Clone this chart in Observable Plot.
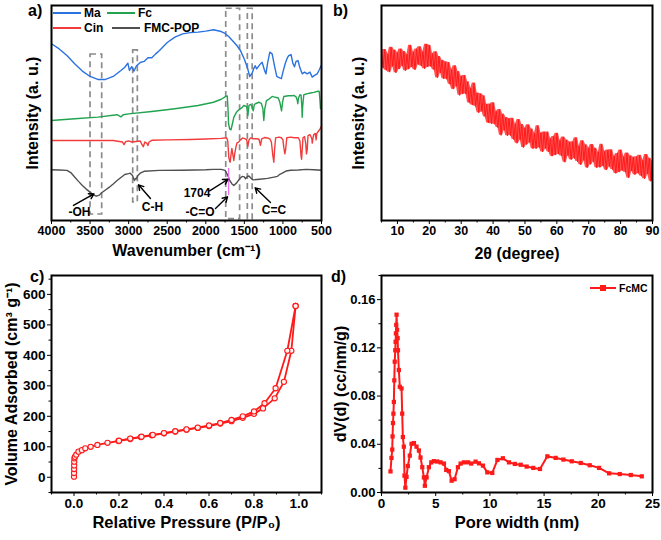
<!DOCTYPE html>
<html><head><meta charset="utf-8">
<script src="https://cdn.jsdelivr.net/npm/d3@7"></script>
<script src="https://cdn.jsdelivr.net/npm/@observablehq/plot@0.6"></script>
<style>
body{margin:0;background:#fff;}
#fig{position:relative;width:661px;height:540px;overflow:hidden;font-family:"Liberation Sans",Arial,sans-serif;font-weight:bold;color:#000;}
.panel{position:absolute;}
.lab{position:absolute;font-size:16px;font-weight:bold;line-height:18px;}
.legt{position:absolute;font-weight:bold;line-height:14px;white-space:nowrap;}
.legl{position:absolute;height:2px;}
</style></head><body><div id="fig"></div>
<script>
// ---------- Panel a: FTIR (wavenumber, intensity a.u.) ----------
const maSpectrum = [[4000,82.2],[3900,79.8],[3800,76.7],[3700,72.9],[3600,69.5],[3500,67.0],[3400,65.6],[3300,65.6],[3200,67.0],[3100,69.8],[3050,71.3],[3010,73.2],[2990,69.8],[2960,71.6],[2930,69.5],[2900,71.9],[2850,73.5],[2800,74.0],[2750,75.7],[2700,75.7],[2650,77.5],[2600,79.1],[2500,82.8],[2400,85.3],[2300,86.8],[2200,87.4],[2100,87.6],[2000,88.1],[1900,88.7],[1800,87.9],[1750,87.0],[1700,85.5],[1650,83.5],[1600,81.5],[1550,79.0],[1500,75.0],[1460,71.0],[1430,67.0],[1400,68.5],[1380,70.5],[1360,72.0],[1340,70.5],[1300,72.5],[1270,73.6],[1240,70.0],[1220,68.2],[1200,73.0],[1170,78.3],[1140,77.5],[1110,72.0],[1080,67.0],[1050,66.5],[1020,66.0],[1000,69.0],[970,73.0],[945,75.5],[925,76.7],[895,77.2],[870,73.0],[850,71.5],[830,74.0],[805,74.4],[780,71.0],[750,68.2],[720,69.0],[685,68.2],[650,69.0],[620,66.7],[590,67.5],[556,68.2],[530,70.0],[504,72.1]];
const fcSpectrum = [[4000,46.5],[3700,47.3],[3400,48.1],[3150,49.2],[3100,48.2],[3070,49.2],[3000,49.6],[2700,50.7],[2400,52.0],[2100,53.5],[1900,55.0],[1800,56.4],[1740,57.7],[1722,57.9],[1712,52],[1705,45],[1690,42.5],[1673,42.2],[1655,45],[1637,48],[1600,50.5],[1572,51.5],[1530,52.5],[1507,53.5],[1470,53],[1455,48.8],[1440,53.5],[1420,54],[1400,53],[1385,51],[1370,54],[1356,54.3],[1313,55],[1280,54.5],[1260,52],[1248,46.5],[1235,52],[1213,55.8],[1180,56.5],[1139,57.7],[1100,57.3],[1060,57],[1040,55],[1018,51],[1005,55],[989,57.7],[930,58],[880,58],[859,58.2],[830,57.5],[815,56],[807,54.3],[798,57],[780,58.5],[765,58.3],[755,53],[750,48],[744,53],[730,58.4],[720,58.6],[680,59],[643,59.3],[600,59.6],[560,60],[543,60.2],[530,60],[520,56],[513,52],[505,53]];
const cinSpectrum = [[4000,37.2],[3500,37.2],[3200,37.2],[3080,36.5],[3060,35.3],[3040,36.7],[3000,37],[2960,36.5],[2850,37],[2830,35.5],[2810,34.3],[2790,36.5],[2765,36],[2750,34.9],[2735,36.5],[2700,37.3],[2500,37.5],[2200,37.7],[2000,37.9],[1800,38.2],[1730,38.5],[1715,37],[1702,29.5],[1690,27.5],[1684,27.1],[1675,30],[1662,33.5],[1650,31],[1637,27.9],[1625,31],[1610,34],[1597,36],[1575,36.5],[1550,37.5],[1522,38.4],[1490,38],[1470,37.5],[1455,34.5],[1440,37.5],[1420,38.4],[1380,38],[1340,38],[1310,37.8],[1291,35],[1275,38],[1240,38.6],[1200,38.4],[1170,38],[1150,36.5],[1130,30],[1118,27.1],[1108,33],[1095,38.4],[1050,38.8],[1020,38.5],[1000,37.5],[989,34.1],[975,31],[965,33],[950,38.5],[900,38.8],[850,38.5],[800,38.5],[780,37],[765,30],[758,28.5],[750,33],[740,38.5],[720,39],[705,36],[695,31],[685,33],[675,39.5],[650,40],[625,38],[620,36],[612,38],[600,40],[580,40.5],[570,37.5],[560,40.5],[540,41.5],[520,42.5],[504,43.7]];
const popSpectrum = [[4000,23.6],[3900,23.5],[3800,23.3],[3750,22.3],[3700,20.2],[3650,18.2],[3600,16.3],[3550,14.6],[3500,13.2],[3460,12.0],[3420,11.3],[3380,11.8],[3350,12.9],[3300,14.2],[3250,15.5],[3200,17.0],[3150,18.6],[3100,20.0],[3050,21.4],[3000,21.8],[2980,22.0],[2950,20.9],[2925,18.6],[2910,19.6],[2900,19.4],[2880,20.9],[2850,22.0],[2800,22.9],[2600,23.3],[2300,23.4],[2000,23.6],[1900,23.8],[1800,23.8],[1750,23.3],[1722,21.5],[1704,20.0],[1690,18.6],[1660,17.0],[1637,16.3],[1600,17.5],[1560,19.5],[1528,20.5],[1500,20.3],[1485,19.4],[1460,20.5],[1442,20.7],[1410,19.5],[1387,18.9],[1300,19.2],[1200,19.6],[1100,20.3],[1074,20.5],[1040,21.5],[1008,22.0],[960,23.0],[900,23.4],[800,23.5],[700,23.8],[600,23.6],[504,23.4]];
const ftirNames = ["Ma","Fc","Cin","FMC-POP"];
const ftirColors = ["#2a72e0","#22a34f","#f23c3c","#505050"];
const waveTicks = [4000,3500,3000,2500,2000,1500,1000,500];
const waveMinor = [3750,3250,2750,2250,1750,1250,750];
// annotation boxes, marker line, arrows and labels (data coordinates)
const annoBoxes = [{x1:3494,x2:3343,y1:2.8,y2:77.2},{x1:2941,x2:2881,y1:8.4,y2:79.1},{x1:1735,x2:1555,y1:0.6,y2:98.5},{x1:1455,x2:1392,y1:0.6,y2:98.5}];
const annoMark = [{x:1704,y1:11.6,y2:24.2}];
const annoArrows = [{x1:3715,y1:7.0,x2:3450,y2:12.4},{x1:2717,y1:10.2,x2:2872,y2:16.6},{x1:1950,y1:13.8,x2:1712,y2:19.2},{x1:1874,y1:5.6,x2:1718,y2:11.0},{x1:1161,y1:8.4,x2:1360,y2:15.2}];
const annoLabels = [{x:3637,y:3.9,t:"-OH"},{x:2691,y:6.2,t:"C-H"},{x:2114,y:12.7,t:"1704"},{x:2075,y:3.9,t:"-C=O"},{x:1116,y:5.0,t:"C=C"}];

// ---------- Panel b: XRD (2θ from 5 to 90 in 0.5° steps) ----------
const xrdStart = 5, xrdStep = 0.5;
const xrdIntensity = [78.4,71.0,79.5,69.9,77.3,69.0,80.6,71.7,79.3,68.7,78.0,70.4,79.8,72.0,78.6,69.7,77.3,70.4,81.5,71.4,78.3,70.1,79.8,72.6,80.8,71.9,78.5,70.6,82.0,71.4,81.5,71.6,77.6,70.1,78.5,66.4,76.3,68.7,74.5,65.9,73.8,65.7,73.5,63.4,70.2,61.1,72.0,62.4,69.3,58.2,67.1,58.8,67.5,58.8,64.5,54.8,61.5,53.7,63.9,53.1,59.3,50.1,58.9,50.7,58.0,48.3,54.1,45.4,54.2,45.0,54.8,44.8,50.7,43.2,51.6,39.6,49.5,42.0,47.9,39.4,47.4,39.5,47.6,37.7,44.8,35.9,47.0,37.6,44.7,33.9,43.0,35.3,44.5,36.3,42.6,33.4,40.6,33.4,44.1,33.9,40.7,31.9,41.2,33.5,41.2,31.9,38.1,29.9,39.1,30.4,40.6,30.9,37.2,30.0,38.8,27.1,37.4,30.2,36.5,28.3,36.6,28.9,38.5,27.4,34.6,25.9,37.1,27.9,35.2,24.5,33.7,26.1,35.4,27.3,33.6,24.5,31.8,24.7,35.5,25.4,32.2,23.5,32.8,25.1,32.9,23.7,30.0,21.9,31.2,22.5,32.8,23.2,29.6,22.5,31.4,19.8,30.1,23.0,29.4,21.3,29.6,22.0,30.3,20.7,28.0,19.4,30.7,21.6,28.9,18.2,27.5];
const xrdTicks = [10,20,30,40,50,60,70,80,90];
const xrdMinor = [5,15,25,35,45,55,65,75,85];

// ---------- Panel c: N2 isotherm ----------
const adsP = [0.0001,0.0002,0.0004,0.0007,0.001,0.002,0.004,0.01,0.02,0.035,0.05,0.074,0.104,0.149,0.198,0.25,0.297,0.346,0.4,0.45,0.5,0.55,0.6,0.65,0.7,0.75,0.8,0.84,0.892,0.933,0.966,0.985];
const adsV = [2,14,27,39,51,62,67,74,84,89,95,100,106,113,119,125.6,131.8,137.7,144,150,156,162,168,176,184,195,208,226,259,313,415,562];
const desP = [0.985,0.948,0.896,0.847,0.80,0.75,0.70,0.65,0.60,0.55,0.50,0.45,0.40,0.35,0.30,0.25,0.20];
const desV = [562,415,292,243,216,200,188,178,170,163,157,151,145,139,133,127,120];
const pTicks = [0,0.2,0.4,0.6,0.8,1.0];
const pMinor = [-0.1,0.1,0.3,0.5,0.7,0.9,1.1];
const vTicks = [0,100,200,300,400,500,600];
const vMinor = [-50,50,150,250,350,450,550,650];

// ---------- Panel d: pore size distribution ----------
const poreWidth = [0.83,0.92,0.99,1.02,1.06,1.1,1.14,1.18,1.22,1.27,1.3,1.33,1.36,1.39,1.44,1.49,1.52,1.6,1.69,1.85,1.91,1.97,2.06,2.12,2.2,2.31,2.43,2.61,2.77,2.99,3.23,3.45,3.6,3.76,3.91,4.0,4.16,4.37,4.59,4.83,5.14,5.45,5.76,5.97,6.22,6.47,6.74,7.05,7.3,7.6,7.99,8.28,8.68,8.99,9.36,9.76,10.22,10.69,11.2,11.76,12.3,12.84,13.39,14.0,14.62,15.3,16.07,16.78,17.55,18.38,19.21,20.07,21.0,21.98,23.0,24.01];
const poreDV = [0.0175,0.0287,0.0356,0.0465,0.0576,0.0654,0.0751,0.093,0.1085,0.118,0.125,0.132,0.139,0.1475,0.135,0.128,0.118,0.1016,0.0877,0.0863,0.0654,0.046,0.038,0.014,0.004,0.013,0.022,0.0306,0.0404,0.041,0.038,0.0348,0.029,0.021,0.0125,0.0056,0.0125,0.021,0.025,0.026,0.0257,0.025,0.024,0.0187,0.0177,0.0098,0.011,0.021,0.024,0.025,0.025,0.024,0.0256,0.0242,0.0223,0.0167,0.0162,0.027,0.0284,0.025,0.0237,0.023,0.0215,0.0204,0.0195,0.030,0.0287,0.0273,0.0259,0.0245,0.0226,0.0204,0.0159,0.0153,0.0145,0.0134];
const wTicks = [0,5,10,15,20,25];
const wMinor = [2.5,7.5,12.5,17.5,22.5];
const dvTicks = [0,0.04,0.08,0.12,0.16];
const dvMinor = [0.02,0.06,0.10,0.14,0.18];

// ---------- build ----------
const FONT = "'Liberation Sans', Arial, sans-serif";
const fig = document.getElementById("fig");
function place(node, left, top){ node.classList.add("panel"); node.style.left = left+"px"; node.style.top = top+"px"; fig.appendChild(node); }
function style(fs){ return {fontFamily: FONT, fontWeight: "bold", fontSize: fs+"px", color: "#000", background: "transparent", overflow: "visible"}; }
const RED = "#ff1a1a";
const intFmt = d3.format("d");

// Panel a
const ftirSets = [maSpectrum, fcSpectrum, cinSpectrum, popSpectrum];
const panelA = Plot.plot({
  width: 330, height: 270, marginLeft: 51, marginRight: 9, marginTop: 5, marginBottom: 50,
  style: style(12.5),
  x: {domain: [4000, 500]},
  y: {domain: [0, 100], axis: null},
  marks: [
    Plot.rect(annoBoxes, {x1: "x1", x2: "x2", y1: "y1", y2: "y2", fill: "none", stroke: "#8c8c8c", strokeWidth: 1.7, strokeDasharray: "6,4"}),
    ...ftirSets.map((s, i) => Plot.line(s, {x: d => d[0], y: d => d[1], stroke: ftirColors[i], strokeWidth: 1.4})),
    Plot.ruleX(annoMark, {x: "x", y1: "y1", y2: "y2", stroke: "#f06cf0", strokeWidth: 1.2}),
    Plot.arrow(annoArrows, {x1: "x1", y1: "y1", x2: "x2", y2: "y2", stroke: "black", strokeWidth: 1.4, headLength: 6}),
    Plot.text(annoLabels, {x: "x", y: "y", text: "t", fontSize: 12, fontWeight: "bold", fill: "black"}),
    Plot.axisX(waveTicks, {tickSize: 4, tickPadding: 2, label: null, tickFormat: intFmt, fontSize: 12.5}),
    Plot.axisX(waveMinor, {tickSize: 2.5, tickFormat: () => "", label: null}),
    Plot.text(["Wavenumber (cm⁻¹)"], {frameAnchor: "bottom", dy: 35, fontSize: 16, fontWeight: "bold"}),
    Plot.text(["Intensity (a. u.)"], {frameAnchor: "left", textAnchor: "middle", rotate: -90, dx: -19, fontSize: 16, fontWeight: "bold"}),
    Plot.frame({stroke: "black", strokeWidth: 2})
  ]
});
place(panelA, 0, 0);

// Panel b
const xrdRows = xrdIntensity.map((v, i) => ({t: xrdStart + i * xrdStep, v}));
const panelB = Plot.plot({
  width: 331, height: 270, marginLeft: 51, marginRight: 9, marginTop: 5, marginBottom: 50,
  style: style(12.5),
  x: {domain: [5, 90]},
  y: {domain: [0, 100], axis: null},
  marks: [
    Plot.areaY(xrdRows, Plot.map({y1: Plot.window({k: 3, reduce: "min"}), y2: Plot.window({k: 3, reduce: "max"})}, {x: "t", y1: "v", y2: "v", fill: RED, fillOpacity: 0.75})),
    Plot.line(xrdRows, {x: "t", y: "v", stroke: RED, strokeWidth: 1}),
    Plot.axisX(xrdTicks, {tickSize: 4, tickPadding: 2, label: null, tickFormat: intFmt, fontSize: 12.5}),
    Plot.axisX(xrdMinor, {tickSize: 2.5, tickFormat: () => "", label: null}),
    Plot.text(["2θ (degree)"], {frameAnchor: "bottom", dy: 38, fontSize: 16, fontWeight: "bold"}),
    Plot.text(["Intensity (a. u.)"], {frameAnchor: "left", textAnchor: "middle", rotate: -90, dx: -23, fontSize: 16, fontWeight: "bold"}),
    Plot.frame({stroke: "black", strokeWidth: 2})
  ]
});
place(panelB, 330, 0);

// Panel c
const adsRows = adsP.map((p, i) => ({p, v: adsV[i]}));
const desRows = desP.map((p, i) => ({p, v: desV[i]}));
const panelC = Plot.plot({
  width: 330, height: 270, marginLeft: 51, marginRight: 9, marginTop: 5, marginBottom: 48,
  style: style(13.5),
  x: {domain: [-0.1, 1.1]},
  y: {domain: [-50, 662]},
  marks: [
    Plot.line(adsRows, {x: "p", y: "v", stroke: RED, strokeWidth: 1.8}),
    Plot.line(desRows, {x: "p", y: "v", stroke: RED, strokeWidth: 1.8}),
    Plot.dot(adsRows, {x: "p", y: "v", r: 2.6, stroke: RED, fill: "#fff0f0", strokeWidth: 1.1}),
    Plot.dot(desRows, {x: "p", y: "v", r: 2.6, stroke: RED, fill: "#fff0f0", strokeWidth: 1.1}),
    Plot.axisX(pTicks, {tickSize: 4, tickPadding: 2, label: null, tickFormat: d3.format(".1f"), fontSize: 13.5}),
    Plot.axisX(pMinor, {tickSize: 2.5, tickFormat: () => "", label: null}),
    Plot.axisY(vTicks, {tickSize: 4, tickPadding: 2, label: null, tickFormat: intFmt, fontSize: 13.5}),
    Plot.axisY(vMinor, {tickSize: 2.5, tickFormat: () => "", label: null}),
    Plot.text(["Relative Pressure (P/P₀)"], {frameAnchor: "bottom", dy: 35, fontSize: 16.5, fontWeight: "bold"}),
    Plot.text(["Volume Adsorbed (cm³ g⁻¹)"], {frameAnchor: "left", textAnchor: "middle", rotate: -90, dx: -40, fontSize: 16, fontWeight: "bold"}),
    Plot.frame({stroke: "black", strokeWidth: 2})
  ]
});
place(panelC, 0, 270);

// Panel d
const psdRows = poreWidth.map((w, i) => ({w, v: poreDV[i]}));
const panelD = Plot.plot({
  width: 331, height: 270, marginLeft: 51, marginRight: 9, marginTop: 5, marginBottom: 48,
  style: style(13.5),
  x: {domain: [0, 25]},
  y: {domain: [0, 0.18]},
  marks: [
    Plot.line(psdRows, {x: "w", y: "v", stroke: RED, strokeWidth: 2}),
    Plot.dot(psdRows, {x: "w", y: "v", symbol: "square", r: 2.4, fill: RED, stroke: "none"}),
    Plot.axisX(wTicks, {tickSize: 4, tickPadding: 2, label: null, tickFormat: intFmt, fontSize: 13.5}),
    Plot.axisX(wMinor, {tickSize: 2.5, tickFormat: () => "", label: null}),
    Plot.axisY(dvTicks, {tickSize: 4, tickPadding: 2, label: null, tickFormat: d3.format(".2f"), fontSize: 13}),
    Plot.axisY(dvMinor, {tickSize: 2.5, tickFormat: () => "", label: null}),
    Plot.text(["Pore width (nm)"], {frameAnchor: "bottom", dy: 35, fontSize: 16.5, fontWeight: "bold"}),
    Plot.text(["dV(d) (cc/nm/g)"], {frameAnchor: "left", textAnchor: "middle", rotate: -90, dx: -41, fontSize: 16, fontWeight: "bold"}),
    Plot.frame({stroke: "black", strokeWidth: 2})
  ]
});
place(panelD, 330, 270);

// panel letters
[["a)",28,2],["b)",333,2],["c)",30,268],["d)",331,268]].forEach(([t,x,y]) => {
  const d = document.createElement("div"); d.className = "lab"; d.textContent = t;
  d.style.left = x+"px"; d.style.top = y+"px"; fig.appendChild(d);
});
// legend panel a
const legA = [[0,53,13,84],[1,107,13,138],[2,53,28,84],[3,112,28,144]];
legA.forEach(([i,lx,ly,tx]) => {
  const l = document.createElement("div"); l.className = "legl";
  l.style.left = lx+"px"; l.style.top = (ly-1)+"px"; l.style.width = "28px"; l.style.background = ftirColors[i];
  fig.appendChild(l);
  const t = document.createElement("div"); t.className = "legt"; t.textContent = ftirNames[i];
  t.style.left = tx+"px"; t.style.top = (ly-7)+"px"; t.style.fontSize = "12px"; fig.appendChild(t);
});
// legend panel d
(function(){
  const l = document.createElement("div"); l.className = "legl";
  l.style.left = "590px"; l.style.top = "287px"; l.style.width = "26px"; l.style.background = RED; fig.appendChild(l);
  const s = document.createElement("div"); s.style.position = "absolute"; s.style.left = "600px"; s.style.top = "285px";
  s.style.width = "6px"; s.style.height = "6px"; s.style.background = RED; fig.appendChild(s);
  const t = document.createElement("div"); t.className = "legt"; t.textContent = "FcMC";
  t.style.left = "619px"; t.style.top = "281px"; t.style.fontSize = "10.5px"; fig.appendChild(t);
})();
</script></body></html>
